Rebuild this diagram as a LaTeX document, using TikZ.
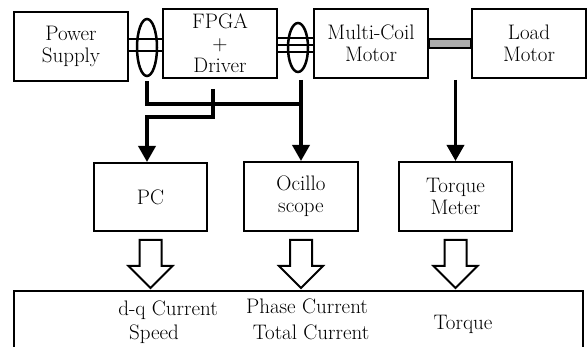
\documentclass[tikz,border=0pt]{standalone}
\usepackage{tikz}
\usetikzlibrary{arrows.meta, positioning, shapes.geometric}

\begin{document}
\begin{tikzpicture}[
    x=1pt, y=-1pt,
    box/.style={rectangle, draw, line width=2pt, minimum width=114pt, minimum height=69pt, align=center, inner sep=0pt, font=\fontsize{21}{22}\selectfont},
    txt/.style={anchor=base, inner sep=0pt, font=\fontsize{21}{22}\selectfont},
    coil/.style={ellipse, draw, line width=2.5pt, minimum width=20pt, inner sep=0pt},
    cable/.style={line width=2pt},
    wire/.style={line width=3.5pt},
    arrow/.style={-{Triangle[length=16pt, width=17pt]}, line width=3.5pt},
    hollow/.style={draw, line width=2pt, fill=white, line join=miter},
]
\useasboundingbox (0,0) rectangle (587,347);

% Top row
\node[box] (ps) at (71,46.5) {Power\\Supply};
\node[box] (fpga) at (220,43.5) {FPGA\\+\\Driver};
\node[box] (mcm) at (371,43.5) {Multi-Coil\\Motor};
\node[box] (lm) at (529,43.5) {Load\\Motor};

% Middle row
\node[box, minimum width=113pt, minimum height=68pt] (pc) at (150.5,197) {PC};
\node[box, minimum height=69pt] (osc) at (301,196.5) {Ocillo\\scope};
\node[box, minimum width=113pt, minimum height=69pt] (tm) at (455.5,196.5) {Torque\\Meter};

% Result box
\node[box, minimum width=569pt, minimum height=57pt] (res) at (298.5,319.5) {};
\node[txt] (dq) at (168,316) {d-q Current};
\node[txt] (spd) at (154,340) {Speed};
\node[txt] (ph) at (307,314) {Phase Current};
\node[txt] (tot) at (311,340) {Total Current};
\node[txt] (trq) at (463,330) {Torque};

% Cables and current probes
\draw[cable] (ps.east |- 0,39) -- (fpga.west |- 0,39);
\draw[cable] (ps.east |- 0,51) -- (fpga.west |- 0,51);
\draw[cable] (fpga.east |- 0,38.5) -- (mcm.west |- 0,38.5);
\draw[cable] (fpga.east |- 0,45.5) -- (mcm.west |- 0,45.5);
\draw[cable] (fpga.east |- 0,52) -- (mcm.west |- 0,52);
\node[coil, minimum height=57pt] (c1) at (147,47.5) {};
\node[coil, minimum height=49pt] (c2) at (298,47.5) {};

% Shaft
\draw[fill=gray!65, line width=1.5pt] (mcm.east |- 0,39) rectangle (lm.west |- 0,48);

% Signal lines
\coordinate (j1) at (0,104);
\coordinate (j2) at (0,117);
\draw[wire, line cap=rect] ([yshift=-6pt]c1.south) |- (osc.north |- j1);
\draw[arrow] ([xshift=-7pt,yshift=-10pt]fpga.south) |- (c1 |- j2) -- (c1 |- pc.north);
\draw[arrow] ([yshift=-1pt]osc.north |- mcm.south) -- (osc.north);
\draw[arrow] ([yshift=-1pt]tm.north |- mcm.south) -- (tm.north);

% Hollow arrows
\foreach \n in {pc,osc,tm}
  \draw[hollow] ([xshift=-11pt,yshift=-8pt]\n.south) -- ([xshift=11pt,yshift=-8pt]\n.south)
    -- ([xshift=11pt,yshift=-34pt]\n.south) -- ([xshift=22pt,yshift=-34pt]\n.south)
    -- ([yshift=-56pt]\n.south) -- ([xshift=-22pt,yshift=-34pt]\n.south)
    -- ([xshift=-11pt,yshift=-34pt]\n.south) -- cycle;

\end{tikzpicture}
\end{document}
